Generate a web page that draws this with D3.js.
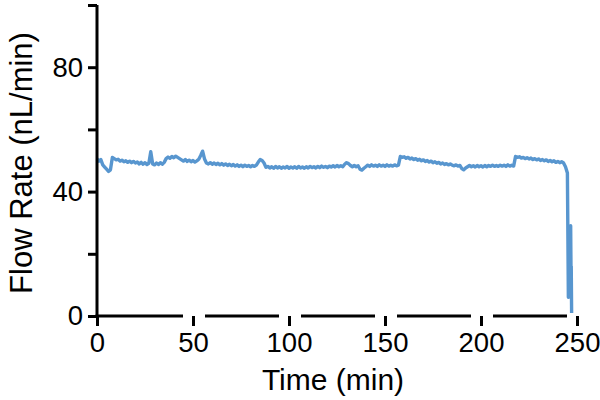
<!DOCTYPE html>
<html>
<head>
<meta charset="utf-8">
<script src="https://d3js.org/d3.v7.min.js"></script>
<style>
  body { margin: 0; background: #fff; }
  .tick text, .title { font-family: "Liberation Sans", Arial, sans-serif; fill: #000; }
</style>
</head>
<body>
<div id="chart"></div>
<script>
// flow rate sampled once per minute, t = 0..244 min
const flowPerMin = [
  50.5, 49.8, 50.3, 48.6, 47.9, 47.2, 46.5, 47.0, 51.0, 50.6,
  50.2, 50.4, 49.8, 50.1, 49.6, 49.9, 49.4, 49.8, 49.3, 49.7,
  49.2, 49.5, 48.9, 49.4, 48.8, 49.3, 48.7, 49.1, 52.8, 48.9,
  48.6, 49.2, 48.7, 49.3, 48.8, 49.4, 50.6, 51.1, 50.7, 51.3,
  50.9, 51.4, 51.0, 50.6, 50.2, 49.8, 50.3, 49.7, 50.1, 49.6,
  50.0, 49.5, 49.9, 50.4, 51.6, 53.0, 50.5, 49.2, 48.9, 49.3,
  48.8, 49.2, 48.7, 49.1, 48.6, 49.0, 48.5, 48.9, 48.4, 48.8,
  48.3, 48.7, 48.2, 48.6, 48.1, 48.5, 48.0, 48.5, 48.1, 48.4,
  48.0, 48.4, 48.1, 48.5, 49.5, 50.3, 50.0, 49.2, 47.8, 48.1,
  47.6, 48.0, 47.5, 48.1, 47.6, 48.0, 47.5, 47.9, 47.6, 48.1,
  47.5, 47.9, 47.6, 48.0, 47.5, 48.1, 47.6, 47.9, 47.5, 48.0,
  47.6, 48.1, 47.7, 48.0, 47.6, 48.1, 47.7, 48.2, 47.8, 48.1,
  47.7, 48.2, 47.9, 48.3, 47.9, 48.4, 48.0, 48.3, 48.0, 48.8,
  49.3, 49.0, 48.4, 48.0, 48.4, 48.0, 48.3, 47.2, 46.9, 47.5,
  48.0, 48.5, 48.1, 48.6, 48.2, 48.5, 48.1, 48.6, 48.2, 48.5,
  48.1, 48.6, 48.2, 48.5, 48.2, 48.6, 48.3, 48.5, 51.3, 51.0,
  51.2, 50.7, 51.0, 50.5, 50.8, 50.3, 50.6, 50.1, 50.4, 49.9,
  50.2, 49.7, 50.0, 49.5, 49.8, 49.3, 49.6, 49.1, 49.4, 48.9,
  49.2, 48.7, 49.0, 48.6, 48.9, 48.5, 48.3, 48.6, 48.2, 48.4,
  47.4, 47.0, 47.6, 48.0, 48.4, 48.0, 48.3, 47.9, 48.4, 48.0,
  48.3, 47.9, 48.4, 48.0, 48.4, 48.1, 48.5, 48.1, 48.4, 48.1,
  48.5, 48.2, 48.5, 48.1, 48.6, 48.2, 48.5, 48.2, 51.3, 51.0,
  51.2, 50.8, 51.0, 50.6, 50.9, 50.5, 50.8, 50.3, 50.6, 50.2,
  50.5, 50.0, 50.3, 49.9, 50.2, 49.7, 50.0, 49.6, 49.9, 49.4,
  49.7, 49.3, 49.6, 49.2, 48.0
];
// end of the run: flow collapses
const tailTime = [245.0, 245.5, 246.2, 246.7, 246.9, 247.0, 247.2];
const tailFlow = [46.0, 6.0, 8.0, 29.0, 13.0, 16.0, 1.0];

const xTicks = [0, 50, 100, 150, 200, 250];
const yTicks = [0, 20, 40, 60, 80, 100];
const yLabels = [0, 40, 80];

const data = flowPerMin.map((v, i) => ({ t: i, v: v }))
  .concat(tailTime.map((t, i) => ({ t: t, v: tailFlow[i] })));

const W = 600, H = 400;
const margin = { top: 5, right: 23, bottom: 84, left: 97 };

const svg = d3.select("#chart").append("svg")
  .attr("width", W).attr("height", H);

const x = d3.scaleLinear().domain([0, 250]).range([margin.left, W - margin.right]);
const y = d3.scaleLinear().domain([0, 100]).range([H - margin.bottom, margin.top]);

// data line
svg.append("path")
  .datum(data)
  .attr("fill", "none")
  .attr("stroke", "#5896cf")
  .attr("stroke-width", 3.4)
  .attr("stroke-linejoin", "round")
  .attr("d", d3.line().x(d => x(d.t)).y(d => y(d.v)));

// y axis
const yAxis = svg.append("g")
  .attr("transform", `translate(${x(0)},0)`)
  .call(d3.axisLeft(y).tickValues(yTicks).tickSize(9).tickSizeOuter(0).tickPadding(5)
    .tickFormat(d => yLabels.includes(d) ? d : ""));
yAxis.select(".domain").attr("stroke-width", 3).attr("d", `M0,${y(100)}V${y(0) + 1.5}`);
yAxis.selectAll(".tick line").attr("stroke-width", 3);
yAxis.selectAll(".tick text").style("font-size", "27.5px");

// x axis: broken baseline between ticks
const xAxis = svg.append("g")
  .attr("transform", `translate(0,${y(0)})`)
  .call(d3.axisBottom(x).tickValues(xTicks).tickSize(10).tickSizeOuter(0).tickPadding(6));
xAxis.select(".domain").remove();
xAxis.selectAll(".tick line").attr("stroke-width", 3);
xAxis.selectAll(".tick text").style("font-size", "27.5px");

const segs = d3.pairs(xTicks);
xAxis.selectAll("line.seg")
  .data(segs)
  .join("line")
  .attr("class", "seg")
  .attr("x1", (d, i) => i === 0 ? x(d[0]) - 1.5 : x(d[0]) + 12)
  .attr("x2", d => x(d[1]) - 10)
  .attr("y1", 0).attr("y2", 0)
  .attr("stroke", "#000")
  .attr("stroke-width", 3);

// titles
svg.append("text")
  .attr("class", "title")
  .attr("x", 333).attr("y", 390)
  .attr("text-anchor", "middle")
  .style("font-size", "30px")
  .text("Time (min)");

svg.append("text")
  .attr("class", "title")
  .attr("transform", "translate(32,163) rotate(-90)")
  .attr("text-anchor", "middle")
  .style("font-size", "31px")
  .text("Flow Rate (nL/min)");
</script>
</body>
</html>
